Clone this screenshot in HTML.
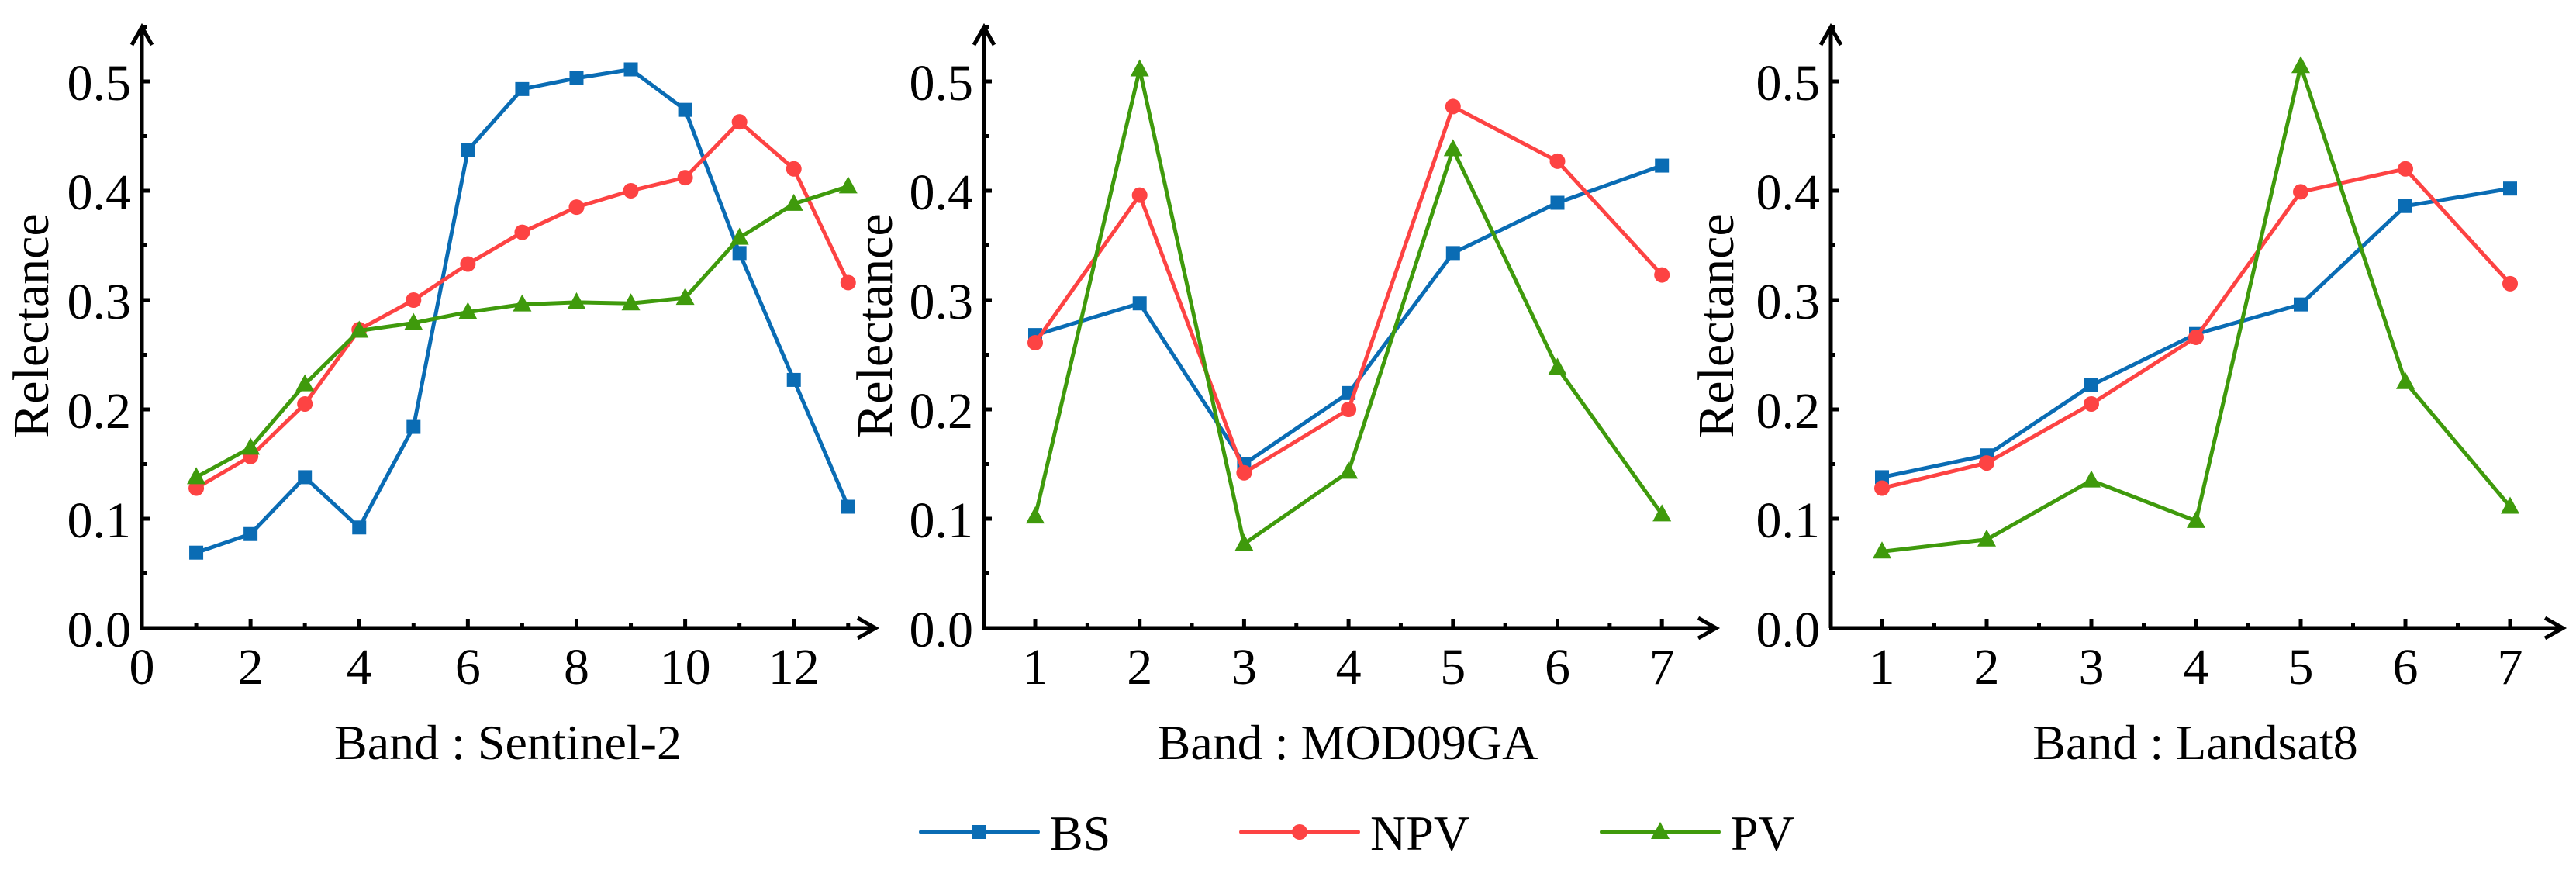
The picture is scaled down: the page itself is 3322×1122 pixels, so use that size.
<!DOCTYPE html>
<html><head><meta charset="utf-8"><style>
html,body{margin:0;padding:0;background:#fff;}
svg{display:block;}
text{font-family:"Liberation Serif","DejaVu Serif Condensed","DejaVu Serif",serif;}
</style></head><body>
<svg id="chart" width="3322" height="1122" viewBox="0 0 3322 1122" xmlns="http://www.w3.org/2000/svg">
<g id="legend"></g>
</svg>
<script>
const s2Bands = [1,2,3,4,5,6,7,8,9,10,11,12,13];
const s2BS  = [0.069,0.086,0.138,0.092,0.184,0.437,0.493,0.503,0.511,0.474,0.343,0.227,0.111];
const s2NPV = [0.128,0.157,0.205,0.273,0.300,0.333,0.362,0.385,0.400,0.412,0.463,0.420,0.316];
const s2PV  = [0.138,0.165,0.223,0.272,0.279,0.289,0.296,0.298,0.297,0.302,0.357,0.388,0.404];
const modBands = [1,2,3,4,5,6,7];
const modBS  = [0.268,0.297,0.150,0.215,0.343,0.389,0.423];
const modNPV = [0.261,0.396,0.142,0.200,0.477,0.427,0.323];
const modPV  = [0.102,0.511,0.077,0.143,0.438,0.238,0.104];
const lsBands = [1,2,3,4,5,6,7];
const lsBS  = [0.138,0.158,0.222,0.269,0.296,0.386,0.402];
const lsNPV = [0.128,0.151,0.205,0.266,0.399,0.420,0.315];
const lsPV  = [0.070,0.081,0.135,0.098,0.514,0.225,0.111];
const yTickLabels = ["0.0","0.1","0.2","0.3","0.4","0.5"];
const s2XTickLabels = ["0","2","4","6","8","10","12"];
const sevenXTickLabels = ["1","2","3","4","5","6","7"];
const seriesNames = ["BS","NPV","PV"];

const NS="http://www.w3.org/2000/svg";
const FONT="'Liberation Serif', 'DejaVu Serif Condensed', 'DejaVu Serif', serif";
const COLORS=["#0a6cb4","#fd4343","#3f9a0c"];
const svg=document.getElementById('chart');
function mk(tag,attrs,parent){const e=document.createElementNS(NS,tag);for(const k in attrs)e.setAttribute(k,attrs[k]);if(tag==='text')e.setAttribute('font-family',FONT);(parent||svg).appendChild(e);return e;}

function marker(g,type,x,y,color){
  let m;
  if(type===0){m=mk('rect',{x:x-9,y:y-9,width:18,height:18,fill:color},g);}
  else if(type===1){m=mk('circle',{cx:x,cy:y,r:10,fill:color},g);}
  else {m=mk('polygon',{points:`${x},${y-13} ${x-12},${y+9} ${x+12},${y+9}`,fill:color},g);}
  
  
}

function panel(cfg){
  const g=mk('g',{});
  
  
  const ax=cfg.ax, ay=810, yTop=105, yPer=(ay-yTop)/0.5;
  const X=v=>cfg.x0+(v-cfg.v0)*cfg.per;
  const Y=v=>ay-v*yPer;
  const axes=mk('path',{d:`M${ax},${ay} L${ax},35 M${ax-13},58 L${ax},35 L${ax+13},58 M${ax-2},${ay} L${cfg.arrow},${ay} M${cfg.arrow-23},${ay-13} L${cfg.arrow},${ay} L${cfg.arrow-23},${ay+13}`,stroke:'#000','stroke-width':5,fill:'none'},g);
  
  
  yTickLabels.forEach((t,i)=>{
    const v=i*0.1;
    mk('line',{x1:ax,x2:ax+10,y1:Y(v),y2:Y(v),stroke:'#000','stroke-width':5},g);
    mk('line',{x1:ax,x2:ax+6,y1:Y(v+0.05),y2:Y(v+0.05),stroke:'#000','stroke-width':5},g);
    const tx=mk('text',{x:ax-14,y:Y(v)+24,'text-anchor':'end','font-size':66},g);
    tx.textContent=t;
    
    
  });
  cfg.xLabels.forEach((t)=>{
    const v=parseFloat(t);
    mk('line',{x1:X(v),x2:X(v),y1:ay,y2:ay-12,stroke:'#000','stroke-width':5},g);
    const mv=v+cfg.minorStep;
    if(X(mv)<cfg.arrow-30) mk('line',{x1:X(mv),x2:X(mv),y1:ay,y2:ay-6,stroke:'#000','stroke-width':5},g);
    const tx=mk('text',{x:X(v),y:882,'text-anchor':'middle','font-size':66},g);
    tx.textContent=t;
    
    
  });
  const yl=mk('text',{x:0,y:0,'text-anchor':'middle','font-size':66,transform:`translate(${cfg.ylx},420) rotate(-90)`},g);
  yl.textContent='Relectance';
  
  
  const xl=mk('text',{x:cfg.xlx,y:979,'text-anchor':'middle','font-size':64},g);
  xl.textContent=cfg.xTitle;
  
  
  cfg.series.forEach((vals,si)=>{
    const pts=vals.map((v,i)=>`${X(cfg.bands[i])},${Y(v)}`).join(' ');
    const pl=mk('polyline',{points:pts,fill:'none',stroke:COLORS[si],'stroke-width':5,'stroke-linejoin':'round'},g);
    
    
    vals.forEach((v,i)=>marker(g,si,X(cfg.bands[i]),Y(v),COLORS[si]));
  });
}

panel({name:'sentinel2-panel',ax:183,x0:183,v0:0,per:70.06,arrow:1129,minorStep:1,xLabels:s2XTickLabels,bands:s2Bands,series:[s2BS,s2NPV,s2PV],ylx:62,xlx:655,xTitle:'Band : Sentinel-2'});
panel({name:'mod09ga-panel',ax:1269,x0:1335,v0:1,per:134.7,arrow:2213,minorStep:0.5,xLabels:sevenXTickLabels,bands:modBands,series:[modBS,modNPV,modPV],ylx:1150,xlx:1738,xTitle:'Band : MOD09GA'});
panel({name:'landsat8-panel',ax:2361,x0:2427,v0:1,per:135,arrow:3305,minorStep:0.5,xLabels:sevenXTickLabels,bands:lsBands,series:[lsBS,lsNPV,lsPV],ylx:2235,xlx:2831,xTitle:'Band : Landsat8'});

const lg=document.getElementById('legend');
const legendX=[1188,1601,2066];
seriesNames.forEach((n,i)=>{
  const e=mk('g',{},lg);
  
  
  const x=legendX[i], y=1073;
  mk('line',{x1:x,x2:x+150,y1:y,y2:y,stroke:COLORS[i],'stroke-width':6,'stroke-linecap':'round'},e);
  marker(e,i,x+75,y,COLORS[i]);
  const t=mk('text',{x:x+166,y:y+23,'font-size':64},e);
  t.textContent=n;
});
</script>
</body></html>
